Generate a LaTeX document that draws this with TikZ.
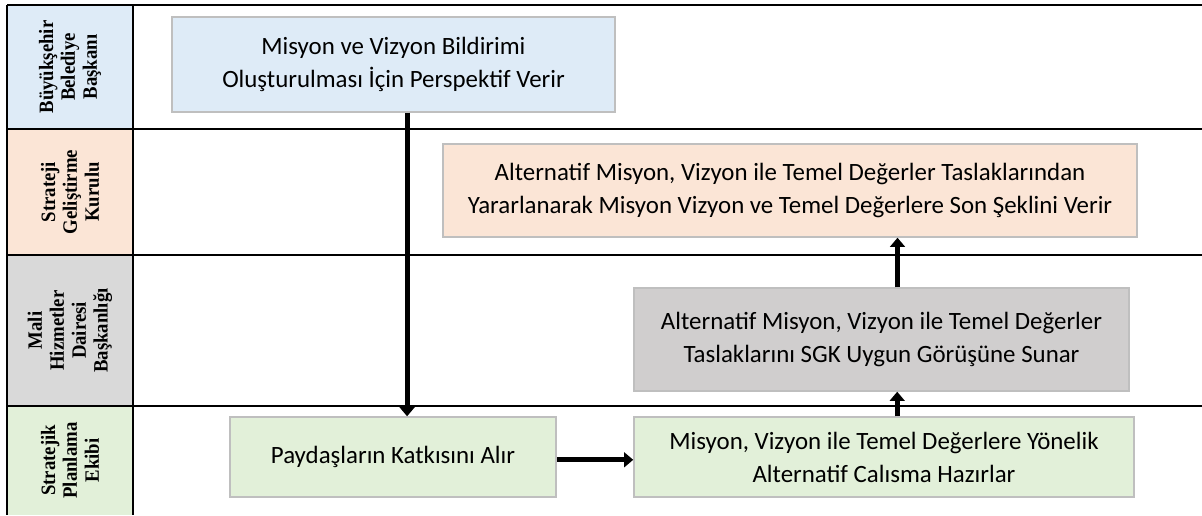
\documentclass[tikz,border=0pt]{standalone}
\usepackage{fontspec}
\setmainfont{Carlito}
\newfontfamily\lanefont[FakeStretch=0.92]{Liberation Serif}
\usetikzlibrary{arrows.meta}
\definecolor{laneblue}{HTML}{DEEBF7}
\definecolor{lanepeach}{HTML}{FBE5D6}
\definecolor{lanegray}{HTML}{D9D9D9}
\definecolor{lanegreen}{HTML}{E2F0D9}
\definecolor{boxgray}{HTML}{D0CECE}
\definecolor{boxline}{HTML}{BFBFBF}
\begin{document}
\begin{tikzpicture}[
        x=0.025cm, y=-0.025cm,
        lane/.style={rectangle, rotate=90, minimum height=3.15cm, inner sep=0pt,
          align=center, font=\lanefont\bfseries\fontsize{14.5}{15.6}\selectfont},
        task/.style={rectangle, draw=boxline, line width=1pt, align=center,
          font=\fontsize{17.7}{23.5}\selectfont},
        flow/.style={line width=3.4pt, -{Triangle[length=6.5pt,width=10.5pt]}},
        rule/.style={line width=1pt}
      ]
      \useasboundingbox (0,0) rectangle (1202,515);
      % lane headers
      \node[lane, fill=laneblue, minimum width=3.1cm] (lbb) at (70,67) {Büyükşehir\\Belediye\\Başkanı};
      \node[lane, fill=lanepeach, minimum width=3.15cm] (lsgk) at (70,192) {Strateji\\Geliştirme\\Kurulu};
      \node[lane, fill=lanegray, minimum width=3.775cm] (lmhd) at (70,330.5) {Mali\\Hizmetler\\Dairesi\\Başkanlığı};
      \node[lane, fill=lanegreen, minimum width=2.725cm] (lspe) at (70,460.5) {Stratejik\\Planlama\\Ekibi};
      % lane rules
      \draw[rule, line width=1.6pt] (7,5) -- (1202,5);
      \draw[rule] (7,129) -- (1202,129);
      \draw[rule] (7,255) -- (1202,255);
      \draw[rule] (7,406) -- (1202,406);
      \draw[rule, line width=1.6pt] (7,5) -- (7,515);
      \draw[rule, line width=1.6pt] (133,5) -- (133,515);
      % tasks
      \node[task, fill=laneblue, minimum width=11.075cm, minimum height=2.375cm] (persp) at (393.5,64.5)
        {Misyon ve Vizyon Bildirimi\\Oluşturulması İçin Perspektif Verir};
      \node[task, fill=lanepeach, minimum width=17.35cm, minimum height=2.325cm] (final) at (790,190.5)
        {Alternatif Misyon, Vizyon ile Temel Değerler Taslaklarından\\Yararlanarak Misyon Vizyon ve Temel Değerlere Son Şeklini Verir};
      \node[task, fill=boxgray, minimum width=12.375cm, minimum height=2.575cm] (sunar) at (881.5,339.5)
        {Alternatif Misyon, Vizyon ile Temel Değerler\\Taslaklarını SGK Uygun Görüşüne Sunar};
      \node[task, fill=lanegreen, minimum width=12.5cm, minimum height=2cm] (hazir) at (884,457)
        {Misyon, Vizyon ile Temel Değerlere Yönelik\\Alternatif Calısma Hazırlar};
      \node[task, fill=lanegreen, minimum width=8.15cm, minimum height=2cm] (katki) at (393,457)
        {Paydaşların Katkısını Alır};
      % flow
      \draw[flow] ([xshift=0.34cm]persp.south) -- ([xshift=0.34cm]persp.south |- katki.north);
      \draw[flow] ([yshift=-0.07cm]katki.east) -- ([yshift=-0.07cm]hazir.west);
      \draw[flow] ([xshift=0.33cm]hazir.north) -- ([xshift=0.33cm]hazir.north |- sunar.south);
      \draw[flow] ([xshift=0.4cm]sunar.north) -- ([xshift=0.4cm]sunar.north |- final.south);
\end{tikzpicture}
\end{document}
